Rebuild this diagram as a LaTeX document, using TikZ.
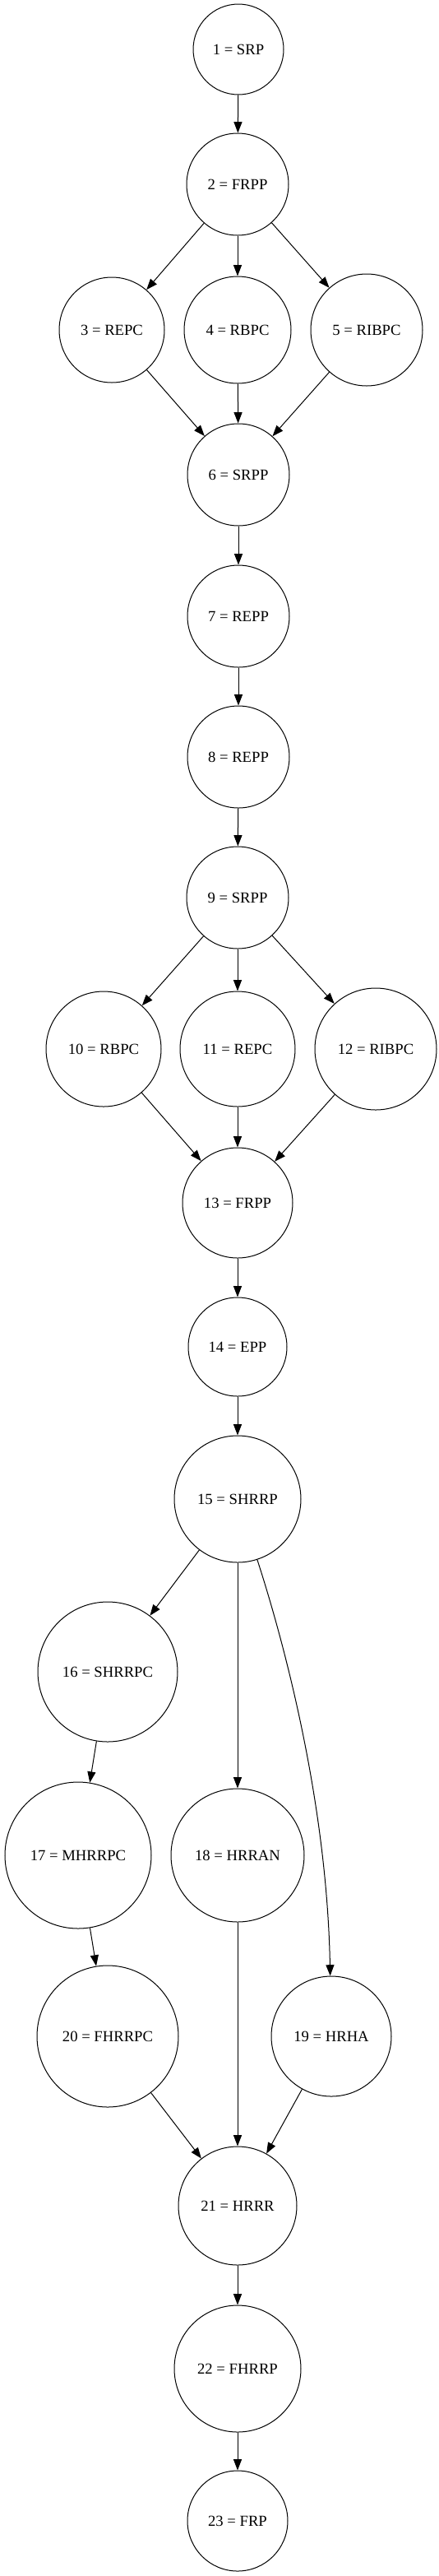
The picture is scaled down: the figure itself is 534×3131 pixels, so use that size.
\documentclass[tikz,border=0pt]{standalone}
\usepackage{fontspec}
\setmainfont{Liberation Serif}
\usetikzlibrary{arrows.meta}

\begin{document}
\begin{tikzpicture}[x=0.75pt,y=-0.75pt,
        state/.style={draw,circle,line width=0.75pt,inner sep=0pt,
            font=\fontsize{14pt}{16pt}\selectfont},
        edge/.style={line width=0.75pt,-{Triangle[length=10pt,width=7.5pt]}}]
        \useasboundingbox (0,0) rectangle (534,3131);

        \node[state,minimum size=82.5pt] (n1) at (290,60) {1 = SRP};
        \node[state,minimum size=93pt] (n2) at (289,224) {2 = FRPP};
        \node[state,minimum size=96pt] (n3) at (136,401) {3 = REPC};
        \node[state,minimum size=97.5pt] (n4) at (289,401) {4 = RBPC};
        \node[state,minimum size=102pt] (n5) at (446,401) {5 = RIBPC};
        \node[state,minimum size=93pt] (n6) at (290,577) {6 = SRPP};
        \node[state,minimum size=93pt] (n7) at (290,749) {7 = REPP};
        \node[state,minimum size=93pt] (n8) at (290,920) {8 = REPP};
        \node[state,minimum size=93pt] (n9) at (289,1091) {9 = SRPP};
        \node[state,minimum size=105pt] (n10) at (126,1275) {10 = RBPC};
        \node[state,minimum size=105pt] (n11) at (289,1275) {11 = REPC};
        \node[state,minimum size=111pt] (n12) at (457,1275) {12 = RIBPC};
        \node[state,minimum size=100.5pt] (n13) at (289,1462) {13 = FRPP};
        \node[state,minimum size=90pt] (n14) at (289,1637) {14 = EPP};
        \node[state,minimum size=115.5pt] (n15) at (289,1822) {15 = SHRRP};
        \node[state,minimum size=127.5pt] (n16) at (131,2032) {16 = SHRRPC};
        \node[state,minimum size=133.5pt] (n17) at (95,2255) {17 = MHRRPC};
        \node[state,minimum size=121.5pt] (n18) at (289,2255) {18 = HRRAN};
        \node[state,minimum size=109.5pt] (n19) at (403,2475) {19 = HRHA};
        \node[state,minimum size=129pt] (n20) at (131,2475) {20 = FHRRPC};
        \node[state,minimum size=108pt] (n21) at (289,2681) {21 = HRRR};
        \node[state,minimum size=115.5pt] (n22) at (289,2879) {22 = FHRRP};
        \node[state,minimum size=91.5pt] (n23) at (289,3064) {23 = FRP};

        \draw[edge] (n1) -- (n2);
        \draw[edge] (n2) -- (n3);
        \draw[edge] (n2) -- (n4);
        \draw[edge] (n2) -- (n5);
        \draw[edge] (n3) -- (n6);
        \draw[edge] (n4) -- (n6);
        \draw[edge] (n5) -- (n6);
        \draw[edge] (n6) -- (n7);
        \draw[edge] (n7) -- (n8);
        \draw[edge] (n8) -- (n9);
        \draw[edge] (n9) -- (n10);
        \draw[edge] (n9) -- (n11);
        \draw[edge] (n9) -- (n12);
        \draw[edge] (n10) -- (n13);
        \draw[edge] (n11) -- (n13);
        \draw[edge] (n12) -- (n13);
        \draw[edge] (n13) -- (n14);
        \draw[edge] (n14) -- (n15);
        \draw[edge] (n15) -- (n16);
        \draw[edge] (n15) -- (n18);
        \draw[edge] (n15) .. controls (350,2010) and (398,2200) .. (n19);
        \draw[edge] (n16) -- (n17);
        \draw[edge] (n17) -- (n20);
        \draw[edge] (n18) -- (n21);
        \draw[edge] (n19) -- (n21);
        \draw[edge] (n20) -- (n21);
        \draw[edge] (n21) -- (n22);
        \draw[edge] (n22) -- (n23);
    \end{tikzpicture}
\end{document}
